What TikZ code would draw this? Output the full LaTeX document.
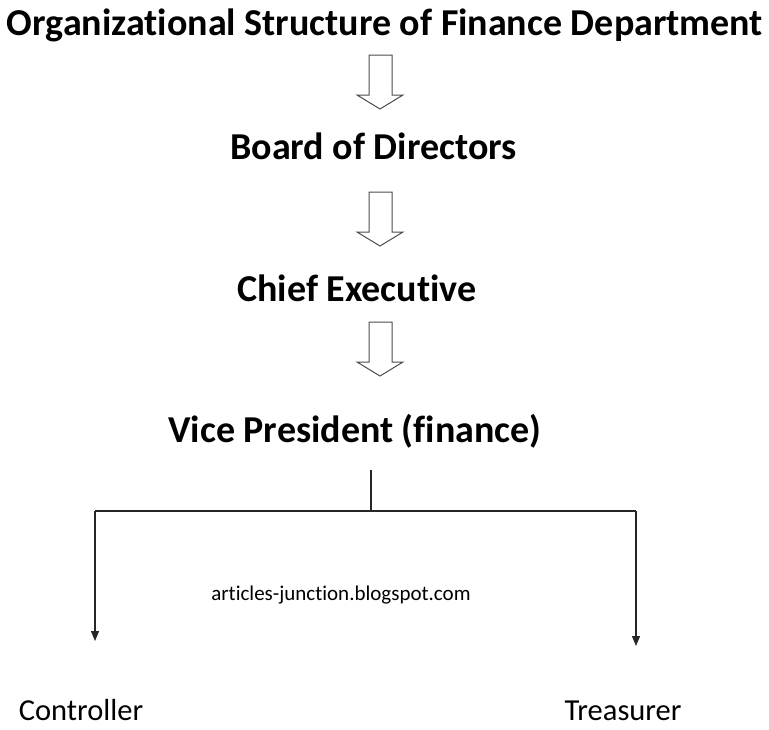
\documentclass[tikz,border=0pt]{standalone}
\usepackage{fontspec}
\setmainfont{Carlito}[Ligatures=NoCommon]
\usetikzlibrary{arrows.meta}
\begin{document}
\begin{tikzpicture}[x=1pt,y=-1pt,
  heading/.style={font=\bfseries\fontsize{38}{44}\selectfont, inner sep=0pt, anchor=base},
  plain/.style={font=\fontsize{30.5}{36}\selectfont, inner sep=0pt, anchor=base},
  wmark/.style={font=\fontsize{21}{25}\selectfont, inner sep=0pt, anchor=base},
  hollow/.style={draw=black!70, line width=1pt, fill=white, line join=miter},
  conn/.style={draw=black!85, line width=1.2pt},
  tip/.style={-{Triangle[width=8pt,length=10pt]}}]
\useasboundingbox (0,0) rectangle (769,729);
\node[heading] (title) at (385,35) {Organizational Structure of Finance Department};
\node[heading] (board) at (373.5,159) {Board of Directors};
\node[heading] (chief) at (357,301) {Chief Executive};
\node[heading] (vp) at (355,442) {Vice President (finance)};
\node[wmark] (web) at (341,600) {articles-junction.blogspot.com};
\node[plain] (ctrl) at (81,720) {Controller};
\node[plain] (treas) at (623,720) {Treasurer};
% hollow arrows
\foreach \y in {55,192,322}{
  \draw[hollow] (369,\y) -- (392,\y) -- (392,\y+40) -- (403,\y+40) -- (380,\y+54)
     -- (357,\y+40) -- (369,\y+40) -- cycle;
}
\coordinate (vpb) at (371,470);
\coordinate (j) at (371,511);
\coordinate (l) at (95,511);
\coordinate (r) at (636,511);
\coordinate (lt) at (95,641);
\coordinate (rt) at (636,646);
\draw[conn] (vpb) -- (j);
\draw[conn] (l) -- (r);
\draw[conn,tip] (l) -- (lt);
\draw[conn,tip] (r) -- (rt);
\end{tikzpicture}
\end{document}
